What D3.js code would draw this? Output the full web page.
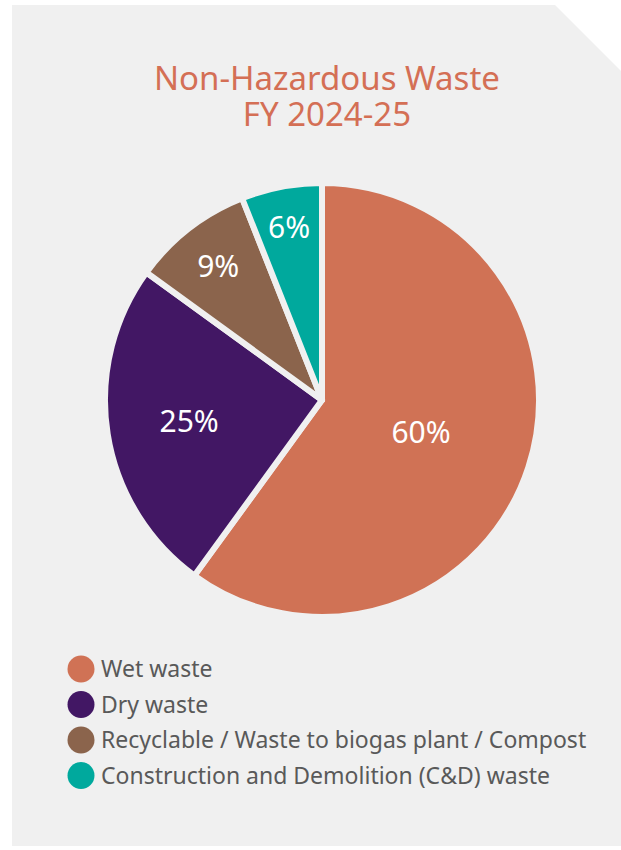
<!DOCTYPE html>
<html>
<head>
<meta charset="utf-8">
<script src="https://cdn.jsdelivr.net/npm/d3@7"></script>
<style>
  body { margin: 0; background: #fff; }
  svg { display: block; font-family: "Noto Sans", "Open Sans", sans-serif; }
</style>
</head>
<body>
<svg width="621" height="850"></svg>
<script>
// Data
const categories = ["Wet waste", "Dry waste", "Recyclable / Waste to biogas plant / Compost", "Construction and Demolition (C&D) waste"];
const values = [60, 25, 9, 6];
const colors = ["#D07255", "#421764", "#8B644C", "#00A99D"];
const titleLines = ["Non-Hazardous Waste", "FY 2024-25"];

const svg = d3.select("svg");

// background panel with clipped top-right corner
svg.append("path")
    .attr("d", "M12,5 L555,5 L621,71 L621,846 L12,846 Z")
    .attr("fill", "#f0f0f0");

// Title (one text, two lines)
svg.append("text")
    .attr("text-anchor", "middle")
    .attr("fill", "#D46F55")
    .style("font-size", "33px")
    .selectAll("tspan")
    .data(titleLines)
    .enter()
    .append("tspan")
    .attr("x", 327)
    .attr("y", (d, i) => 90 + i * 36)
    .text(d => d);

// Pie
const cx = 322, cy = 400, r = 217;
const data = categories.map((c, i) => ({name: c, value: values[i], color: colors[i]}));
const pie = d3.pie().value(d => d.value).sort(null);
const arcs = pie(data);
const arc = d3.arc().innerRadius(0).outerRadius(r);

const g = svg.append("g").attr("transform", `translate(${cx},${cy})`);
g.selectAll("path.slice")
    .data(arcs)
    .enter()
    .append("path")
    .attr("class", "slice")
    .attr("d", arc)
    .attr("fill", d => d.data.color)
    .attr("stroke", "#f0f0f0")
    .attr("stroke-width", 6)
    .attr("stroke-linejoin", "round");

// label distance from centre, as a share of the radius
const labelDist = [0.48, 0.62, 0.78, 0.81];
g.selectAll("text.lbl")
    .data(arcs)
    .enter()
    .append("text")
    .attr("class", "lbl")
    .attr("transform", (d, i) => {
      const a = (d.startAngle + d.endAngle) / 2;
      const rr = r * labelDist[i];
      return `translate(${Math.sin(a) * rr},${-Math.cos(a) * rr})`;
    })
    .attr("text-anchor", "middle")
    .attr("dy", "0.36em")
    .attr("fill", "#fff")
    .style("font-size", "30px")
    .text(d => d.data.value + "%");

// Legend
const legend = svg.append("g").attr("transform", "translate(81,669)");
const rows = legend.selectAll("g")
    .data(data)
    .enter()
    .append("g")
    .attr("transform", (d, i) => `translate(0,${i * 35.5})`);
rows.append("circle")
    .attr("r", 13.5)
    .attr("fill", d => d.color);
rows.append("text")
    .attr("x", 20)
    .attr("dy", "0.36em")
    .attr("fill", "#595959")
    .style("font-size", "23px")
    .text(d => d.name);
</script>
</body>
</html>
